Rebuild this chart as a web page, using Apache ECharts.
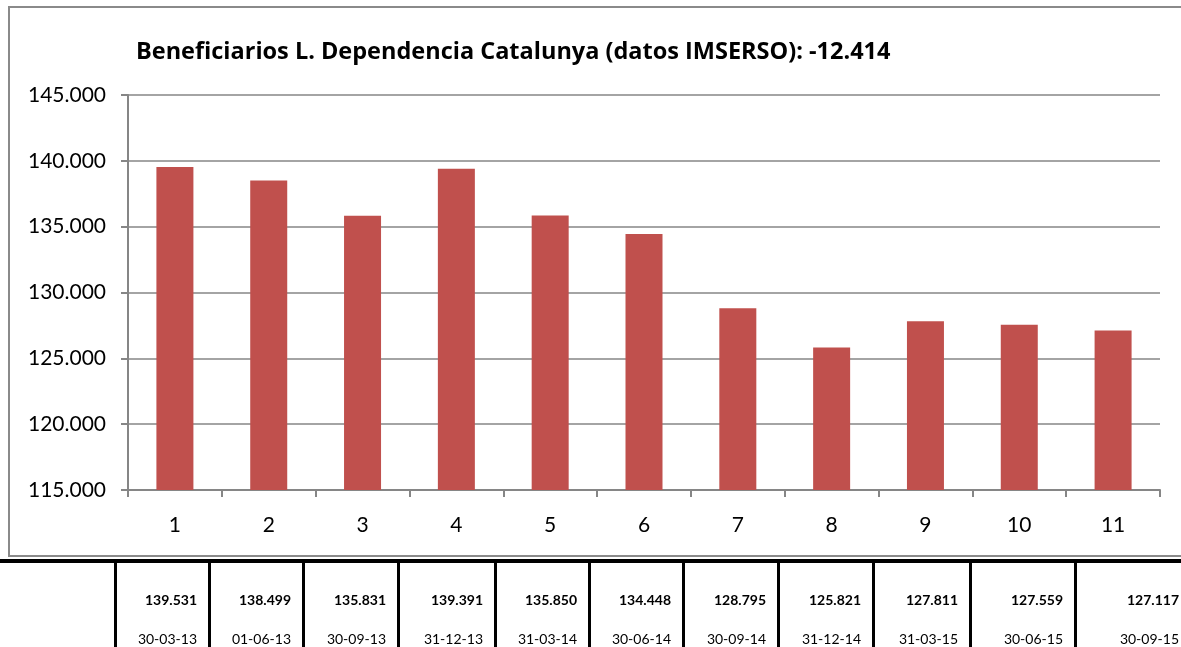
<!DOCTYPE html>
<html>
<head>
<meta charset="utf-8">
<script src="https://cdn.jsdelivr.net/npm/echarts@6/dist/echarts.min.js"></script>
<style>
html,body{margin:0;padding:0;background:#fff;overflow:hidden;}
#chart{position:absolute;left:0;top:0;width:1181px;height:647px;}
#tbl{position:absolute;left:0;top:559px;width:1181px;height:88px;border-top:4px solid #000;font-family:Lato,"Open Sans",sans-serif;font-size:14px;color:#000;}
.cell{position:absolute;top:0;height:88px;border-left:3px solid #000;box-sizing:border-box;}
.val{position:absolute;right:11px;top:28px;font-weight:bold;}
.dt{position:absolute;right:11px;top:67px;}
</style>
</head>
<body>
<div id="chart"></div>
<div id="tbl"></div>
<script>
var categories = ['1','2','3','4','5','6','7','8','9','10','11'];
var values = [139531,138499,135831,139391,135850,134448,128795,125821,127811,127559,127117];
var dates = ['30-03-13','01-06-13','30-09-13','31-12-13','31-03-14','30-06-14','30-09-14','31-12-14','31-03-15','30-06-15','30-09-15'];
var titleText = 'Beneficiarios L. Dependencia Catalunya (datos IMSERSO): -12.414';
var colEdges = [115,209,303,398,495,589,683,778,873,970,1075,1191];

function fmt(v){ return String(v).replace(/\B(?=(\d{3})+(?!\d))/g,'.'); }

var chart = echarts.init(document.getElementById('chart'), null, {renderer:'canvas'});
var font = 'Lato, "Open Sans", sans-serif';
chart.setOption({
  animation:false,
  textStyle:{fontFamily:font},
  title:{text:titleText,left:131,top:35,textStyle:{fontFamily:'"Open Sans", Lato, sans-serif',fontSize:23.5,fontWeight:'bold',color:'#000'}},
  graphic:[{type:'rect',shape:{x:9,y:7,width:1190,height:549},style:{fill:'none',stroke:'#8a8a8a',lineWidth:2},z:-1}],
  grid:{left:128,right:21,top:95,bottom:157},
  xAxis:{type:'category',data:categories,
    axisLine:{lineStyle:{color:'#868686',width:2}},
    axisTick:{show:true,length:7,lineStyle:{color:'#868686',width:2}},
    axisLabel:{fontSize:21,color:'#000',margin:25,fontFamily:font}},
  yAxis:{type:'value',min:115000,max:145000,interval:5000,
    axisLine:{show:true,lineStyle:{color:'#868686',width:2}},
    axisTick:{show:true,length:7,lineStyle:{color:'#868686',width:2}},
    splitLine:{lineStyle:{color:'#868686',width:1.5}},
    axisLabel:{fontSize:21,color:'#000',margin:22,fontFamily:font,formatter:function(v){return fmt(v);}}},
  series:[{type:'bar',data:values,barWidth:37,itemStyle:{color:'#C0504D'}}]
});

var tbl = document.getElementById('tbl');
for (var i=0;i<values.length;i++){
  var c=document.createElement('div');
  c.className='cell';
  c.style.left=(colEdges[i]-1)+'px';
  c.style.width=(colEdges[i+1]-colEdges[i])+'px';
  var v=document.createElement('div');v.className='val';v.textContent=fmt(values[i]);
  var d=document.createElement('div');d.className='dt';d.textContent=dates[i];
  c.appendChild(v);c.appendChild(d);tbl.appendChild(c);
}
</script>
</body>
</html>
